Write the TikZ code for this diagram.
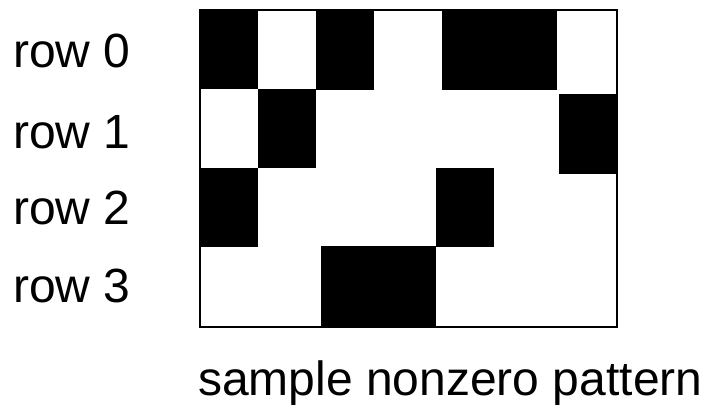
\documentclass[tikz,border=0pt]{standalone}
\usepackage{fontspec}
\setmainfont{Liberation Sans}
\begin{document}
\begin{tikzpicture}[x=1pt, y=-1pt, font=\fontsize{48}{57}\selectfont, line join=miter]
	\useasboundingbox (0,0) rectangle (703,409);
	\coordinate (nw) at (200,10);
	\coordinate (se) at (616.5,327.3);
	% nonzero blocks
	\foreach \xa/\ya/\xb/\yb in {199/9/258/89, 316/9/374/90, 442/9/557/90, 258/89/316/168, 559/94/617/174, 199/168/258/247, 436/168/494/247, 321/246/436/327}
		\fill (\xa,\ya) rectangle (\xb,\yb);
	\draw[line width=2pt] (nw) rectangle (se);
	\node[anchor=base west, inner sep=0] (r0) at (13,68) {row 0};
	\node[anchor=base west, inner sep=0] (r1) at (13,148) {row 1};
	\node[anchor=base west, inner sep=0] (r2) at (13,224) {row 2};
	\node[anchor=base west, inner sep=0] (r3) at (13,302) {row 3};
	\node[anchor=base west, inner sep=0] (cap) at (198,395) {sample nonzero pattern};
\end{tikzpicture}
\end{document}
